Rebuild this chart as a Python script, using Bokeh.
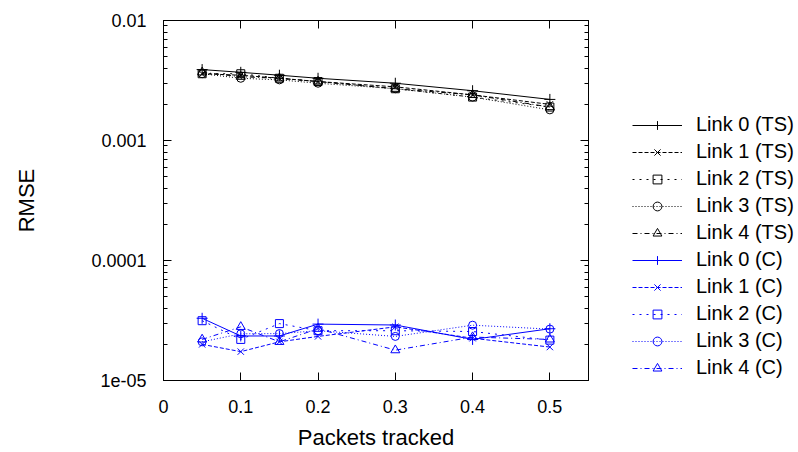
from bokeh.plotting import figure
from bokeh.layouts import row
from bokeh.models import Range1d, FixedTicker, LinearAxis, LogAxis, Legend, LegendItem
from bokeh.embed import file_html
from bokeh.resources import INLINE

# ---- data ----
packets = [0.05, 0.1, 0.15, 0.2, 0.3, 0.4, 0.5]

ts_link0 = [0.0039, 0.0037, 0.0035, 0.0033, 0.0030, 0.0026, 0.0022]
ts_link1 = [0.0036, 0.0035, 0.0033, 0.0031, 0.0028, 0.0024, 0.0020]
ts_link2 = [0.0036, 0.0036, 0.0033, 0.0031, 0.0027, 0.0023, 0.0019]
ts_link3 = [0.0036, 0.0033, 0.0032, 0.0030, 0.0027, 0.0023, 0.0018]
ts_link4 = [0.0037, 0.0034, 0.0033, 0.0031, 0.0027, 0.0024, 0.0019]

c_link0 = [3.3e-5, 2.35e-5, 2.35e-5, 2.95e-5, 2.9e-5, 2.2e-5, 2.7e-5]
c_link1 = [2.0e-5, 1.74e-5, 2.1e-5, 2.33e-5, 2.8e-5, 2.25e-5, 1.9e-5]
c_link2 = [3.15e-5, 2.2e-5, 2.98e-5, 2.6e-5, 2.6e-5, 2.56e-5, 2.17e-5]
c_link3 = [2.1e-5, 2.45e-5, 2.46e-5, 2.6e-5, 2.33e-5, 2.89e-5, 2.68e-5]
c_link4 = [2.2e-5, 2.8e-5, 2.1e-5, 2.7e-5, 1.79e-5, 2.3e-5, 2.2e-5]

ts_labels = ["Link 0 (TS)", "Link 1 (TS)", "Link 2 (TS)", "Link 3 (TS)", "Link 4 (TS)"]
c_labels = ["Link 0 (C)", "Link 1 (C)", "Link 2 (C)", "Link 3 (C)", "Link 4 (C)"]

x_ticks = [0, 0.1, 0.2, 0.3, 0.4, 0.5]
x_tick_labels = ["0", "0.1", "0.2", "0.3", "0.4", "0.5"]
y_ticks = [1e-5, 1e-4, 1e-3, 1e-2]
y_tick_labels = ["1e-05", "0.0001", "0.001", "0.01"]

# ---- styles ----
FONT = "Liberation Sans"
dashes = ["solid", "4 2", "2 5", "1 2", "5 3 1 3"]
markers = ["cross", "x", "square", "circle", "triangle"]
msizes = [11, 9, 8, 8, 9]

MAIN_W = 600
TOTAL_W = 798
TOTAL_H = 452
FRAME_BOTTOM = 380

p = figure(width=MAIN_W, height=TOTAL_H,
           x_range=Range1d(0, 0.55), y_range=Range1d(1e-5, 1e-2),
           y_axis_type="log", output_backend="svg", toolbar_location=None,
           min_border_left=163, min_border_right=12,
           min_border_top=20, min_border_bottom=TOTAL_H - FRAME_BOTTOM)

p.xgrid.visible = False
p.ygrid.visible = False
p.outline_line_color = "black"
p.outline_line_width = 1
p.background_fill_color = "white"

y_minor = [k * 10.0 ** e for e in (-5, -4, -3) for k in range(2, 10)]

def style_axis(ax):
    ax.axis_line_color = "black"
    ax.major_tick_line_color = "black"
    ax.minor_tick_line_color = "black"
    ax.major_tick_in = 8
    ax.major_tick_out = 0
    ax.minor_tick_in = 4
    ax.minor_tick_out = 0
    ax.major_label_text_font = FONT
    ax.major_label_text_font_size = "18px"
    ax.major_label_text_color = "black"
    ax.axis_label_text_font = FONT
    ax.axis_label_text_font_size = "22px"
    ax.axis_label_text_font_style = "normal"
    ax.axis_label_text_color = "black"

xa = p.xaxis[0]
xa.ticker = FixedTicker(ticks=x_ticks, minor_ticks=[])
xa.major_label_overrides = dict(zip(x_ticks, x_tick_labels))
style_axis(xa)
xa.major_label_standoff = 19
xa.axis_label = "Packets tracked"
xa.axis_label_standoff = 9

ya = p.yaxis[0]
ya.ticker = FixedTicker(ticks=y_ticks, minor_ticks=y_minor)
ya.major_label_overrides = dict(zip(y_ticks, y_tick_labels))
style_axis(ya)
ya.major_label_standoff = 17
ya.axis_label = "RMSE"
ya.axis_label_standoff = 49

top = LinearAxis(ticker=FixedTicker(ticks=x_ticks, minor_ticks=[]))
style_axis(top)
top.major_label_text_font_size = "0px"
top.major_label_standoff = 0
top.major_label_overrides = {t: "" for t in x_ticks}
p.add_layout(top, "above")

right = LogAxis(ticker=FixedTicker(ticks=y_ticks, minor_ticks=y_minor))
style_axis(right)
right.major_label_text_font_size = "0px"
right.major_label_standoff = 0
right.major_label_overrides = {t: "" for t in y_ticks}
p.add_layout(right, "right")

# legend-only panel sharing the same series (drawn outside its visible range)
lg = figure(width=TOTAL_W - MAIN_W, height=TOTAL_H,
            x_range=Range1d(10, 11), y_range=Range1d(10, 11),
            output_backend="svg", toolbar_location=None,
            x_axis_location=None, y_axis_location=None, min_border=0)
lg.xgrid.visible = False
lg.ygrid.visible = False
lg.outline_line_color = None

items = []
groups = [([ts_link0, ts_link1, ts_link2, ts_link3, ts_link4], ts_labels, "black"),
          ([c_link0, c_link1, c_link2, c_link3, c_link4], c_labels, "#0000ff")]
for series, labels, color in groups:
    for i, (ys, lab) in enumerate(zip(series, labels)):
        style = dict(line_color=color, line_width=1)
        p.line(packets, ys, line_dash=dashes[i], **style)
        p.scatter(packets, ys, marker=markers[i], size=msizes[i], fill_color=None, **style)
        ln = lg.line(packets, ys, line_dash=dashes[i], **style)
        mk = lg.scatter(packets, ys, marker=markers[i], size=msizes[i], fill_color=None, **style)
        items.append(LegendItem(label=lab, renderers=[ln, mk]))

# the row aligns both frames, so the legend position is relative to the shared frame
legend = Legend(items=items, location=(632 - MAIN_W, FRAME_BOTTOM - 379))
legend.glyph_width = 50
legend.glyph_height = 22
legend.label_height = 22
legend.spacing = 4
legend.padding = 0
legend.margin = 0
legend.label_standoff = 14
legend.label_text_font = FONT
legend.label_text_font_size = "20px"
legend.label_text_color = "black"
legend.border_line_alpha = 0
legend.background_fill_alpha = 0
lg.add_layout(legend)

layout = row(p, lg, spacing=0)
open("out.html", "w").write(file_html(layout, INLINE))
